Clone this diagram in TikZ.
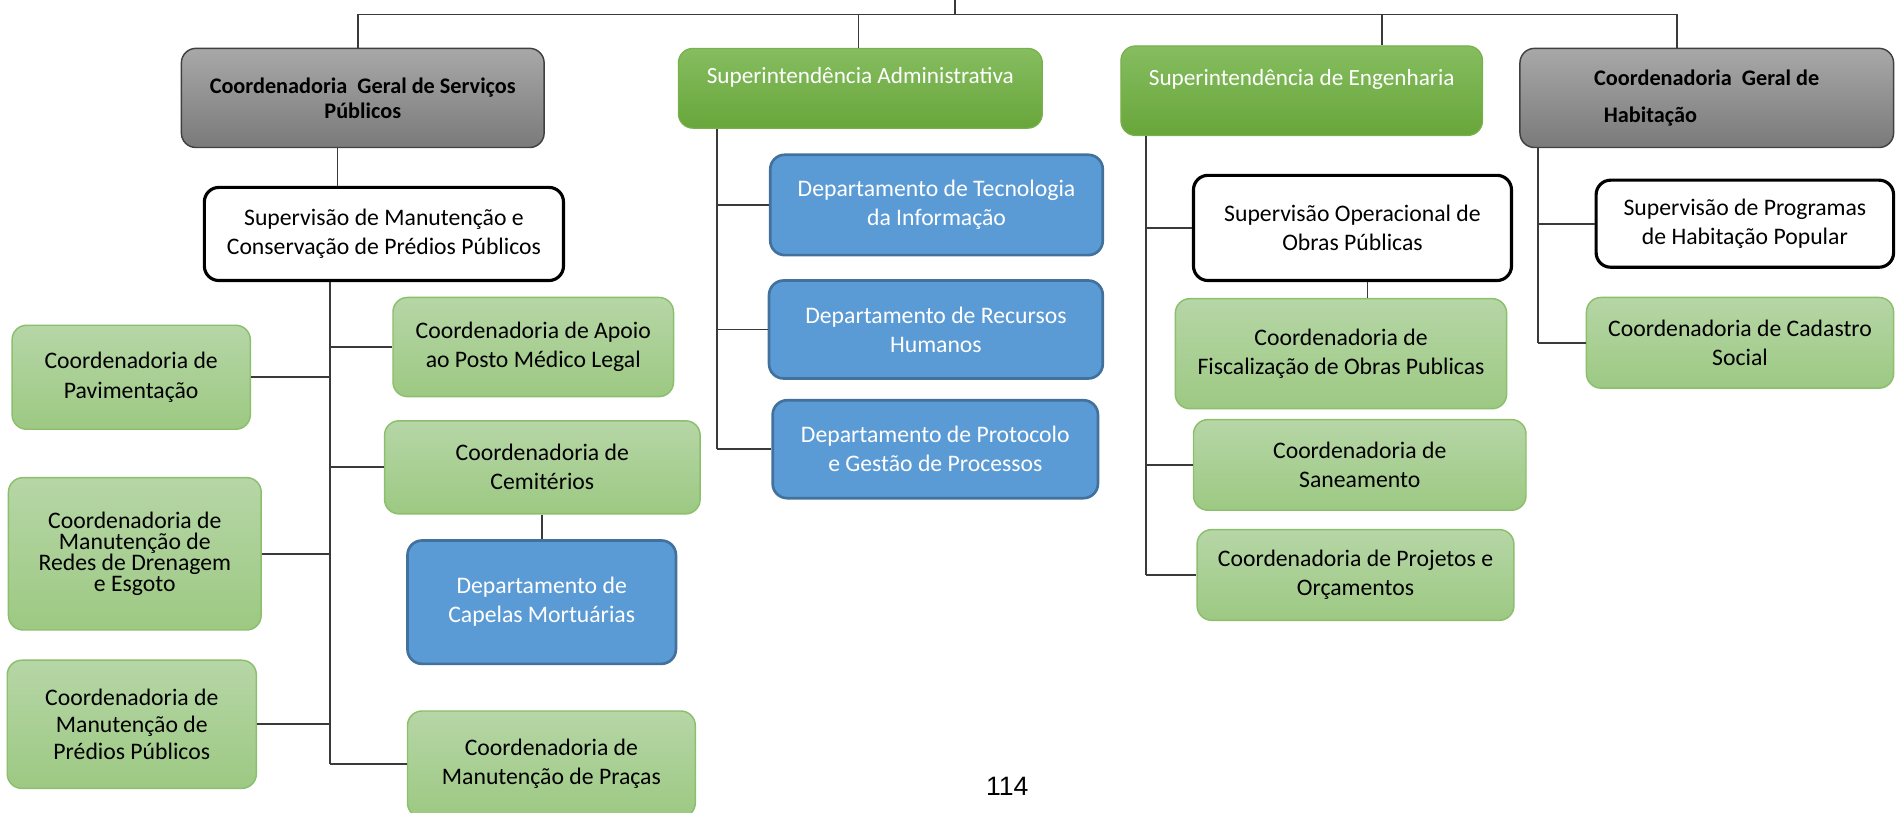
\documentclass[tikz,border=0pt]{standalone}
\usepackage{fontspec}
\setmainfont{Carlito}
\newfontfamily\numfont{Liberation Sans}
\definecolor{grayTop}{HTML}{A8A8A8}
\definecolor{grayBot}{HTML}{7A7A7A}
\definecolor{grayLine}{HTML}{404040}
\definecolor{headTop}{HTML}{86BD60}
\definecolor{headBot}{HTML}{68A63A}
\definecolor{headLine}{HTML}{78B04C}
\definecolor{lgTop}{HTML}{B6D6A6}
\definecolor{lgBot}{HTML}{9DC983}
\definecolor{lgLine}{HTML}{8CBF6C}
\definecolor{blueFill}{HTML}{5B9BD5}
\definecolor{blueLine}{HTML}{41719C}
\definecolor{connCol}{HTML}{3A3A3A}
% box given by its corners (x1,y1) and (x2,y2)
\newcommand\orgbox[7]{%
  \node[#1, minimum width={(#5-#3)*0.5pt}, minimum height={(#6-#4)*0.5pt}]
    (#2) at ({(#3+#5)/2},{(#4+#6)/2}) {#7};}
\begin{document}
\begin{tikzpicture}[x=0.5pt,y=-0.5pt,
  base/.style={rounded corners=6pt, align=center, inner sep=2pt,
    font=\fontsize{9.8}{12}\selectfont},
  graybox/.style={base, draw=grayLine, line width=0.6pt, top color=grayTop,
    bottom color=grayBot, font=\bfseries\fontsize{9.2}{10.4}\selectfont},
  headbox/.style={base, draw=headLine, line width=0.5pt, top color=headTop,
    bottom color=headBot, text=white, text depth=11pt,
    font=\fontsize{9.6}{12}\selectfont},
  lgbox/.style={base, draw=lgLine, line width=0.6pt, top color=lgTop,
    bottom color=lgBot},
  bluebox/.style={base, draw=blueLine, line width=1.1pt, fill=blueFill, text=white},
  whitebox/.style={base, draw=black, line width=1.3pt, fill=white},
  conn/.style={draw=connCol, line width=0.7pt}
]
\useasboundingbox (0,0) rectangle (1568,672);
\clip (0,0) rectangle (1568,672);

% top level
\orgbox{graybox}{cgsp}{150}{40}{450}{122}{Coordenadoria\ \ Geral de Serviços\\Públicos}
\orgbox{headbox}{sadm}{561}{40}{862}{106}{Superintendência Administrativa}
\orgbox{headbox}{seng}{927}{38}{1226}{112}{Superintendência de Engenharia}
\node[graybox, minimum width={(1566-1257)*0.5pt}, minimum height={(122-40)*0.5pt},
  align=left]
  (cgh) at ({(1257+1566)/2},81) {Coordenadoria\ \ Geral de\\[5pt]\hspace{4pt}Habitação};

% services branch
\orgbox{whitebox}{smc}{169}{155}{466}{232}{Supervisão de Manutenção e\\Conservação de Prédios Públicos}
\orgbox{lgbox}{apoio}{325}{246}{557}{328}{Coordenadoria de Apoio\\ao Posto Médico Legal}
\orgbox{lgbox}{pav}{10}{269}{207}{355}{Coordenadoria de\\Pavimentação}
\orgbox{lgbox}{cemit}{318}{348}{579}{425}{Coordenadoria de\\Cemitérios}
\orgbox{bluebox}{capel}{337}{447}{559}{549}{Departamento de\\Capelas Mortuárias}
\node[lgbox, minimum width={(216-7)*0.5pt}, minimum height={(521-395)*0.5pt},
  font=\fontsize{9.8}{8.6}\selectfont]
  (dren) at ({(7+216)/2},{(395+521)/2}) {Coordenadoria de\\Manutenção de\\Redes de Drenagem\\e Esgoto};
\node[lgbox, minimum width={(212-6)*0.5pt}, minimum height={(652-546)*0.5pt},
  font=\fontsize{9.8}{11.2}\selectfont]
  (predios) at ({(6+212)/2},{(546+652)/2}) {Coordenadoria de\\Manutenção de\\Prédios Públicos};
\orgbox{lgbox}{pracas}{337}{588}{575}{676}{Coordenadoria de\\Manutenção de Praças}

% administration branch
\orgbox{bluebox}{dti}{637}{128}{912}{211}{Departamento de Tecnologia\\da Informação}
\orgbox{bluebox}{drh}{636}{232}{912}{313}{Departamento de Recursos\\Humanos}
\orgbox{bluebox}{dpg}{639}{331}{908}{412}{Departamento de Protocolo\\e Gestão de Processos}

% engineering branch
\orgbox{whitebox}{sop}{987}{145}{1250}{232}{Supervisão Operacional de\\Obras Públicas}
\orgbox{lgbox}{fisc}{972}{247}{1246}{338}{Coordenadoria de\\Fiscalização de Obras Publicas}
\orgbox{lgbox}{sanea}{987}{347}{1262}{422}{Coordenadoria de\\Saneamento}
\orgbox{lgbox}{proj}{990}{438}{1252}{513}{Coordenadoria de Projetos e\\Orçamentos}

% housing branch
\orgbox{whitebox}{sphp}{1320}{149}{1566}{221}{Supervisão de Programas\\de Habitação Popular}
\orgbox{lgbox}{cads}{1312}{246}{1566}{321}{Coordenadoria de Cadastro\\Social}

% connector columns
\coordinate (root) at (790,-4);
\coordinate (bus) at (790,12);
\coordinate (xA) at (296,0);
\coordinate (xB) at (710,0);
\coordinate (xC) at (1143,0);
\coordinate (xD) at (1387,0);
\coordinate (xAs) at (279,0);
\coordinate (spA) at (273,0);
\coordinate (spB) at (593,0);
\coordinate (spC) at (948,0);
\coordinate (spD) at (1272,0);
\coordinate (xFis) at (1131,0);
\coordinate (xCap) at (448,0);

% top bus
\draw[conn] (root) -- (bus);
\draw[conn] (cgsp.north -| xA) -- (xA |- bus) -- (xD |- bus) -- (cgh.north -| xD);
\draw[conn] (xB |- bus) -- (sadm.north -| xB);
\draw[conn] (xC |- bus) -- (seng.north -| xC);

% services
\draw[conn] (cgsp.south -| xAs) -- (smc.north -| xAs);
\draw[conn] (smc.south -| spA) -- (spA |- pracas.west);
\draw[conn] (spA |- apoio.west) -- (apoio.west);
\draw[conn] (spA |- cemit.west) -- (cemit.west);
\draw[conn] (spA |- pracas.west) -- (pracas.west);
\draw[conn] (pav.east) -- (pav.east -| spA);
\draw[conn] (dren.east) -- (dren.east -| spA);
\draw[conn] (predios.east) -- (predios.east -| spA);
\draw[conn] (cemit.south -| xCap) -- (capel.north -| xCap);

% administration
\draw[conn] (sadm.south -| spB) -- (spB |- dpg.west);
\draw[conn] (spB |- dti.west) -- (dti.west);
\draw[conn] (spB |- drh.west) -- (drh.west);
\draw[conn] (spB |- dpg.west) -- (dpg.west);

% engineering
\draw[conn] (seng.south -| spC) -- (spC |- proj.west);
\draw[conn] (spC |- sop.west) -- (sop.west);
\draw[conn] (spC |- sanea.west) -- (sanea.west);
\draw[conn] (spC |- proj.west) -- (proj.west);
\draw[conn] (sop.south -| xFis) -- (fisc.north -| xFis);

% housing
\draw[conn] (cgh.south -| spD) -- (spD |- cads.west);
\draw[conn] (spD |- sphp.west) -- (sphp.west);
\draw[conn] (spD |- cads.west) -- (cads.west);

% page number
\node[font=\numfont\fontsize{11}{13}\selectfont] (pg) at (833,650) {114};
\end{tikzpicture}
\end{document}
